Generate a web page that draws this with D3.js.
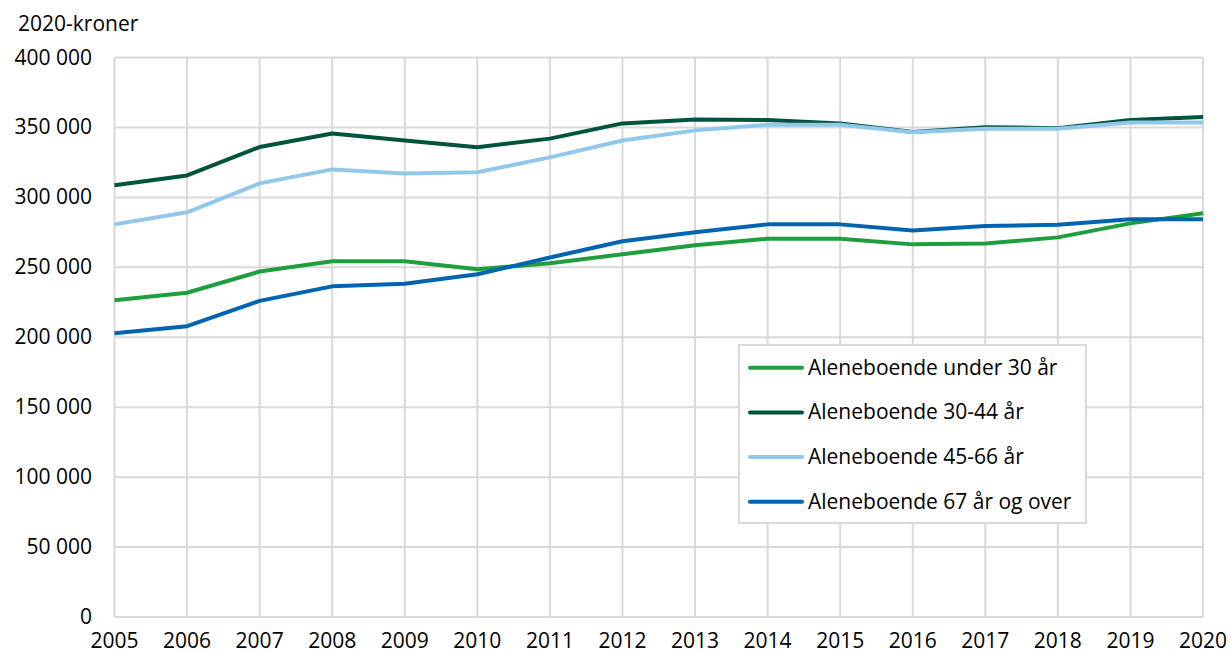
<!DOCTYPE html>
<html>
<head>
<meta charset="utf-8">
<script src="https://cdn.jsdelivr.net/npm/d3@7"></script>
<style>
  body { margin: 0; background: #fff; }
  text { font-family: "Open Sans", sans-serif; fill: #000; }
</style>
</head>
<body>
<div id="box"></div>
<script>
// data
const years = [2005, 2006, 2007, 2008, 2009, 2010, 2011, 2012, 2013, 2014, 2015, 2016, 2017, 2018, 2019, 2020];
const under30 = [226400, 231800, 247000, 254300, 254300, 248600, 252900, 259300, 265700, 270400, 270400, 266400, 267000, 271400, 281400, 288600];
const age30to44 = [308600, 315700, 336000, 345700, 340700, 335900, 342000, 352900, 355700, 355300, 352900, 346800, 350200, 349500, 355400, 357400];
const age45to66 = [280700, 289300, 310000, 320000, 317000, 318000, 328600, 340700, 347900, 352000, 352000, 346600, 349000, 349000, 353600, 353600];
const over67 = [202900, 207900, 226000, 236400, 238200, 245000, 257000, 268600, 275000, 280700, 280700, 276400, 279600, 280400, 284300, 284300];
const seriesNames = ['Aleneboende under 30 år', 'Aleneboende 30-44 år', 'Aleneboende 45-66 år', 'Aleneboende 67 år og over'];
const seriesColors = ['#1f9e3e', '#00543c', '#92c7ec', '#0064b0'];
const yTicks = [0, 50000, 100000, 150000, 200000, 250000, 300000, 350000, 400000];

const series = [under30, age30to44, age45to66, over67].map((vals, i) => ({
  name: seriesNames[i],
  color: seriesColors[i],
  values: vals.map((v, j) => ({ year: years[j], value: v }))
}));

const width = 1230, height = 651;
const padLeft = 114.5, padRight = 27, padTop = 57.5, padBottom = 34;

const svg = d3.select('#box').append('svg')
  .attr('width', width)
  .attr('height', height);

const x = d3.scaleLinear()
  .domain([2005, 2020])
  .range([padLeft, width - padRight]);

const y = d3.scaleLinear()
  .domain([0, 400000])
  .range([height - padBottom, padTop]);

const fmt = v => d3.format(',')(v).replace(/,/g, ' ');

// grid
svg.append('g').selectAll('line.h').data(yTicks)
  .join('line')
  .attr('x1', padLeft).attr('x2', width - padRight)
  .attr('y1', d => y(d)).attr('y2', d => y(d))
  .style('stroke', '#d9d9d9').style('stroke-width', 2);

svg.append('g').selectAll('line.v').data(years)
  .join('line')
  .attr('x1', d => x(d)).attr('x2', d => x(d))
  .attr('y1', y(0)).attr('y2', y(400000))
  .style('stroke', '#d9d9d9').style('stroke-width', 2);

// y labels
svg.append('g').selectAll('text').data(yTicks)
  .join('text')
  .attr('x', 92)
  .attr('y', d => y(d) + 7)
  .attr('text-anchor', 'end')
  .style('font-size', '21px')
  .text(d => fmt(d));

// x labels
svg.append('g').selectAll('text').data(years)
  .join('text')
  .attr('x', d => x(d))
  .attr('y', 648)
  .attr('text-anchor', 'middle')
  .style('font-size', '21px')
  .text(d => d);

svg.append('text')
  .attr('x', 18).attr('y', 31)
  .style('font-size', '21px')
  .text('2020-kroner');

// lines
const line = d3.line()
  .x(d => x(d.year))
  .y(d => y(d.value));

svg.append('g').selectAll('path').data(series)
  .join('path')
  .attr('d', d => line(d.values))
  .style('fill', 'none')
  .style('stroke', d => d.color)
  .style('stroke-width', 4)
  .style('stroke-linejoin', 'round');

// legend
const legend = svg.append('g').attr('transform', 'translate(739,345)');
legend.append('rect')
  .attr('width', 347).attr('height', 178)
  .style('fill', '#fff')
  .style('stroke', '#d9d9d9').style('stroke-width', 2);

const items = legend.selectAll('g.item').data(series)
  .join('g')
  .attr('transform', (d, i) => `translate(0,${22.7 + i * 44.7})`);

items.append('line')
  .attr('x1', 11).attr('x2', 63)
  .attr('y1', 0).attr('y2', 0)
  .style('stroke', d => d.color)
  .style('stroke-width', 4)
  .style('stroke-linecap', 'round');

items.append('text')
  .attr('x', 69).attr('y', 7)
  .style('font-size', '21px')
  .text(d => d.name);
</script>
</body>
</html>
